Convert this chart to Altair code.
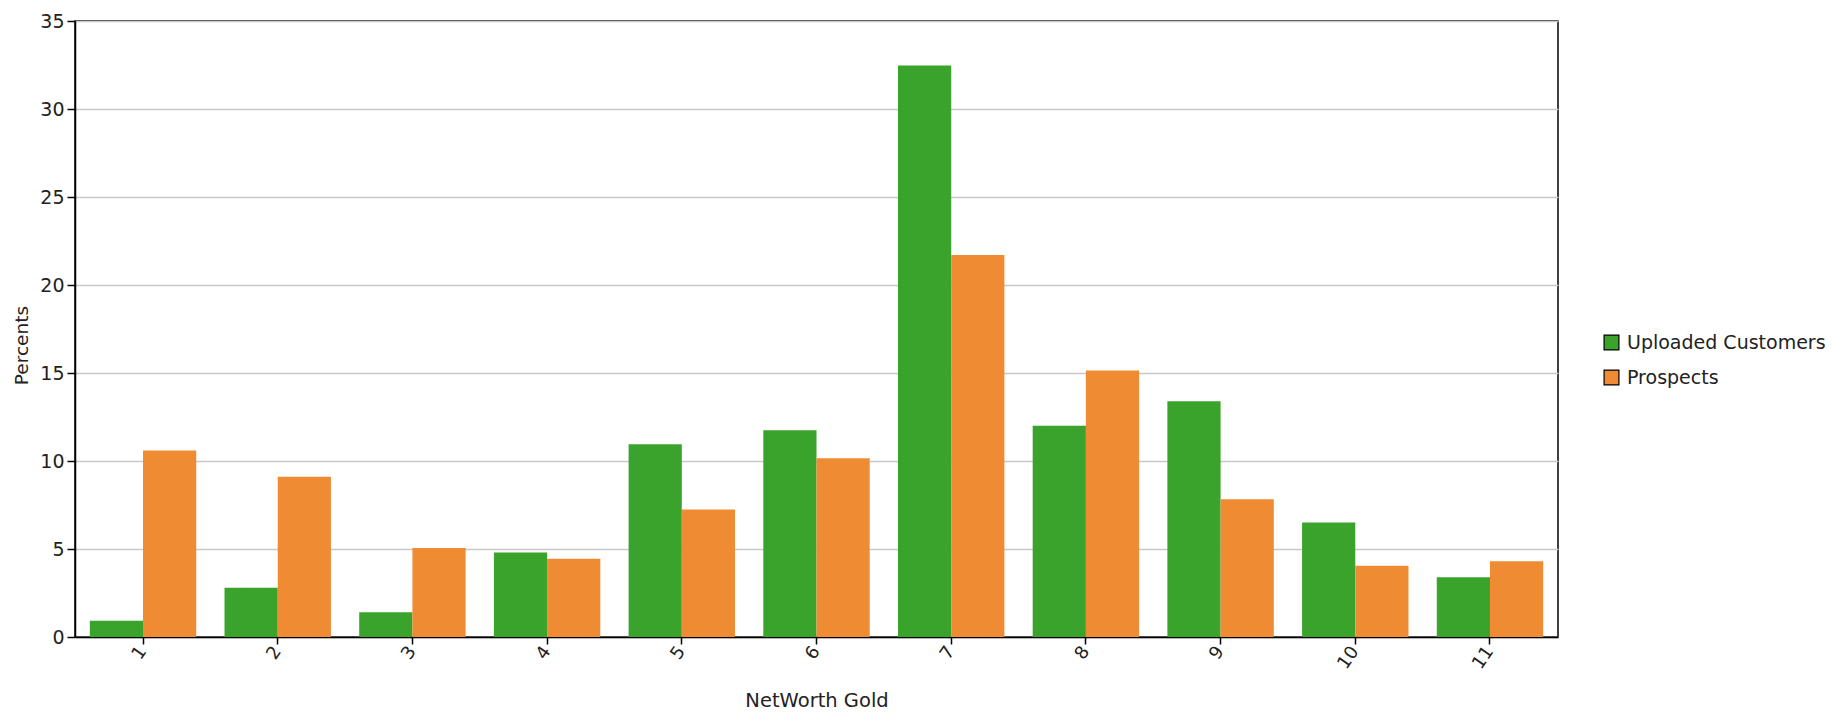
import altair as alt
import pandas as pd

categories = [1, 2, 3, 4, 5, 6, 7, 8, 9, 10, 11]
uploaded = [0.93, 2.8, 1.4, 4.8, 10.95, 11.75, 32.47, 12.0, 13.4, 6.5, 3.39]
prospects = [10.6, 9.1, 5.05, 4.45, 7.24, 10.16, 21.7, 15.14, 7.83, 4.05, 4.3]
series_names = ["Uploaded Customers", "Prospects"]
colors = ["#3aa32b", "#ee8b33"]
y_ticks = [0, 5, 10, 15, 20, 25, 30, 35]

rows = []
for c, u, p in zip(categories, uploaded, prospects):
    rows.append({"cat": c, "series": series_names[0], "value": u})
    rows.append({"cat": c, "series": series_names[1], "value": p})
df = pd.DataFrame(rows)

FONT = "DejaVu Sans"

chart = alt.Chart(df).mark_bar().encode(
    x=alt.X("cat:O", title="NetWorth Gold",
            scale=alt.Scale(paddingInner=0.21, paddingOuter=0.11),
            axis=alt.Axis(labelAngle=-55, labelAlign="right", labelBaseline="middle",
                          labelFont=FONT, labelFontSize=18, labelColor="#222",
                          domainColor="black", domainWidth=1.5, tickColor="black",
                          tickSize=7, tickWidth=1.5, labelPadding=4,
                          titleFont=FONT, titleFontSize=19.5, titleFontWeight="normal",
                          titleColor="#222", titleY=63, titleBaseline="middle", grid=False)),
    xOffset=alt.XOffset("series:N", sort=series_names),
    y=alt.Y("value:Q", title="Percents",
            scale=alt.Scale(domain=[0, 35], nice=False),
            axis=alt.Axis(values=y_ticks, labelFont=FONT, labelFontSize=19, labelColor="#222",
                          domainColor="black", domainWidth=1.5, tickColor="black",
                          tickSize=8, tickWidth=1.5, labelPadding=3,
                          gridColor="#c8c8c8", gridWidth=1.5,
                          titleFont=FONT, titleFontSize=18.5, titleFontWeight="normal",
                          titleColor="#222", titleX=-54, titleY=324,
                          titleAlign="center", titleBaseline="middle")),
    color=alt.Color("series:N", sort=series_names,
                    scale=alt.Scale(domain=series_names, range=colors),
                    legend=alt.Legend(title=None, orient="none", legendX=1527, legendY=312,
                                      symbolType="square", symbolSize=220,
                                      symbolStrokeColor="black", symbolStrokeWidth=1.2,
                                      symbolOpacity=1,
                                      labelFont=FONT, labelFontSize=19, labelColor="#222",
                                      rowPadding=14, labelOffset=6, labelLimit=400)),
).properties(
    width=1483,
    height=616,
    autosize=alt.AutoSizeParams(type="none"),
    padding={"left": 67, "top": 13, "right": 267, "bottom": 73},
).configure_view(
    stroke="black", strokeWidth=1.5
)

chart.save("out.html", embed_options={"renderer": "svg", "actions": False})
